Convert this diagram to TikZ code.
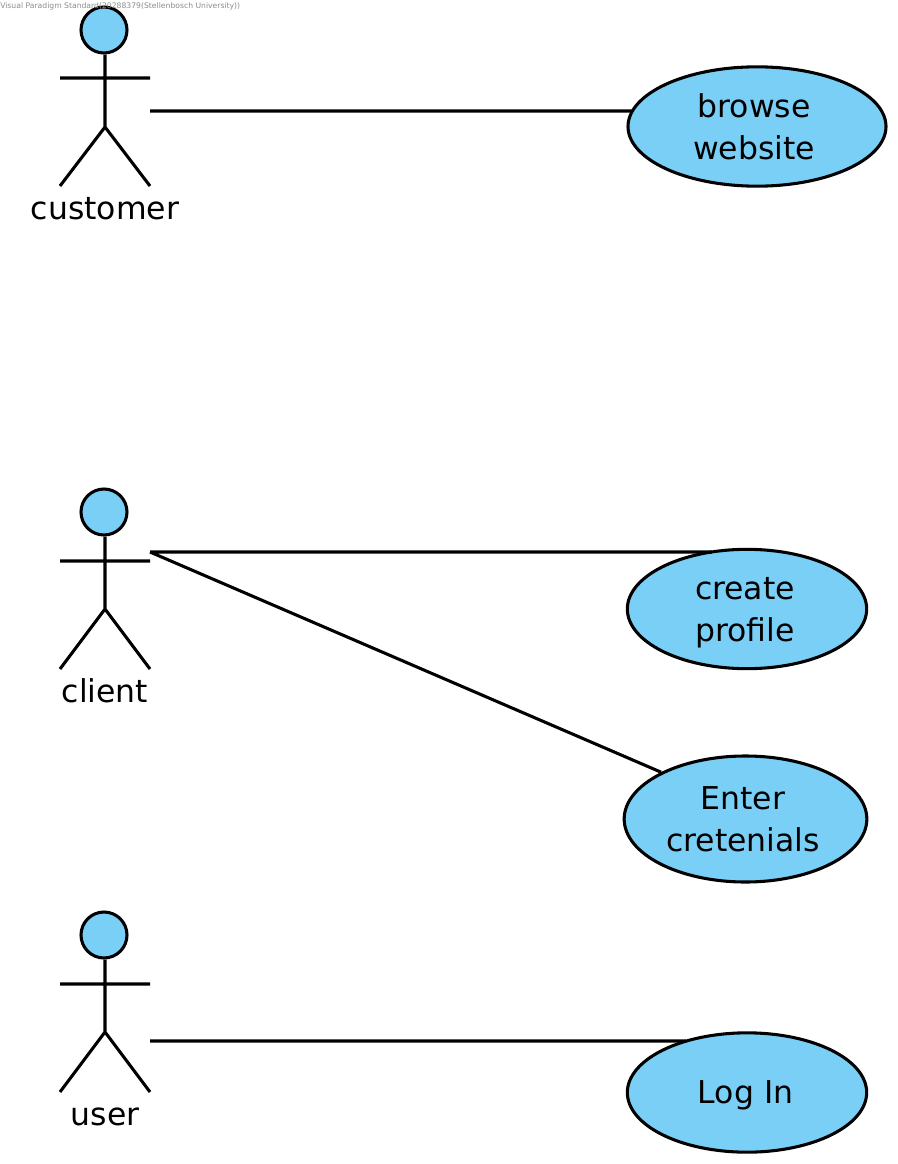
\documentclass[tikz,border=0pt]{standalone}
\usepackage{fontspec}
\setmainfont{DejaVu Sans}
\usepackage{xcolor}
\usetikzlibrary{shapes.geometric}
\definecolor{vpblue}{HTML}{7ACFF7}

\tikzset{
  usecase/.style={ellipse,draw=black,line width=2.3pt,fill=vpblue,inner sep=0pt,align=center,text depth=0pt,font=\fontsize{23.6}{31.5}\selectfont},
  head/.style={circle,draw=black,line width=2.3pt,fill=vpblue,inner sep=0pt,minimum size=34.5pt},
  actorname/.style={inner sep=0pt,text height=17pt,text depth=0pt,font=\fontsize{23.6}{31.5}\selectfont},
  stick/.style={line width=2.3pt,draw=black},
  assoc/.style={line width=2.3pt,draw=black},
  watermark/.style={inner sep=0pt,anchor=west,text=black!45,font=\fontsize{5.75}{6}\selectfont}
}

\begin{document}
\begin{tikzpicture}[x=0.75pt,y=-0.75pt]
	\useasboundingbox (0,0) rectangle (897,1164);

	% The actors
	\node [head] at (104,30) (cHead) {};
	\coordinate (cHip) at (105,127);
	\coordinate (cArmL) at (60,78);
	\coordinate (cArmR) at (150,78);
	\coordinate (cFootL) at (60,186);
	\coordinate (cFootR) at (150,186);
	\coordinate (cHand) at (150,111);
	\node [actorname] at (105,208) (cName) {customer};

	\node [head] at (104,512) (kHead) {};
	\coordinate (kHip) at (105,609);
	\coordinate (kArmL) at (60,561);
	\coordinate (kArmR) at (150,561);
	\coordinate (kFootL) at (60,669);
	\coordinate (kFootR) at (150,669);
	\coordinate (kHand) at (150,552);
	\node [actorname] at (105,691) (kName) {client};

	\node [head] at (104,935) (uHead) {};
	\coordinate (uHip) at (105,1032);
	\coordinate (uArmL) at (60,984);
	\coordinate (uArmR) at (150,984);
	\coordinate (uFootL) at (60,1092);
	\coordinate (uFootR) at (150,1092);
	\coordinate (uHand) at (150,1041);
	\node [actorname] at (105,1114) (uName) {user};

	% Stick figures
	\path[stick]
	(cHip |- cHead.south) -- (cHip)
	(cArmL) -- (cArmR)
	(cFootL) -- (cHip) -- (cFootR)
	(kHip |- kHead.south) -- (kHip)
	(kArmL) -- (kArmR)
	(kFootL) -- (kHip) -- (kFootR)
	(uHip |- uHead.south) -- (uHip)
	(uArmL) -- (uArmR)
	(uFootL) -- (uHip) -- (uFootR);

	% The use cases
	\node [usecase,minimum width=193.5pt,minimum height=89.5pt] at (757,126.5) (browse) {browse\kern4.5pt\\website\kern4.5pt};
	\node [usecase,minimum width=179.5pt,minimum height=89.5pt] at (747,609) (create) {create\kern3pt\\profile\kern3pt};
	\node [usecase,minimum width=182pt,minimum height=94.5pt] at (745.5,819) (enter) {Enter\kern3.7pt\\cretenials\kern3.7pt};
	\node [usecase,minimum width=179.5pt,minimum height=89.5pt] at (747,1092.5) (login) {Log In\kern2pt};

	% Associations
	\path[assoc]
	(cHand) -- (cHand -| browse.172.9)
	(kHand) -- (kHand -| create.121)
	(kHand) -- (enter.151.7)
	(uHand) -- (uHand -| login.139.3);

	\node [watermark] at (0,6.5) (mark) {Visual Paradigm Standard(20288379(Stellenbosch University))};
\end{tikzpicture}
\end{document}
